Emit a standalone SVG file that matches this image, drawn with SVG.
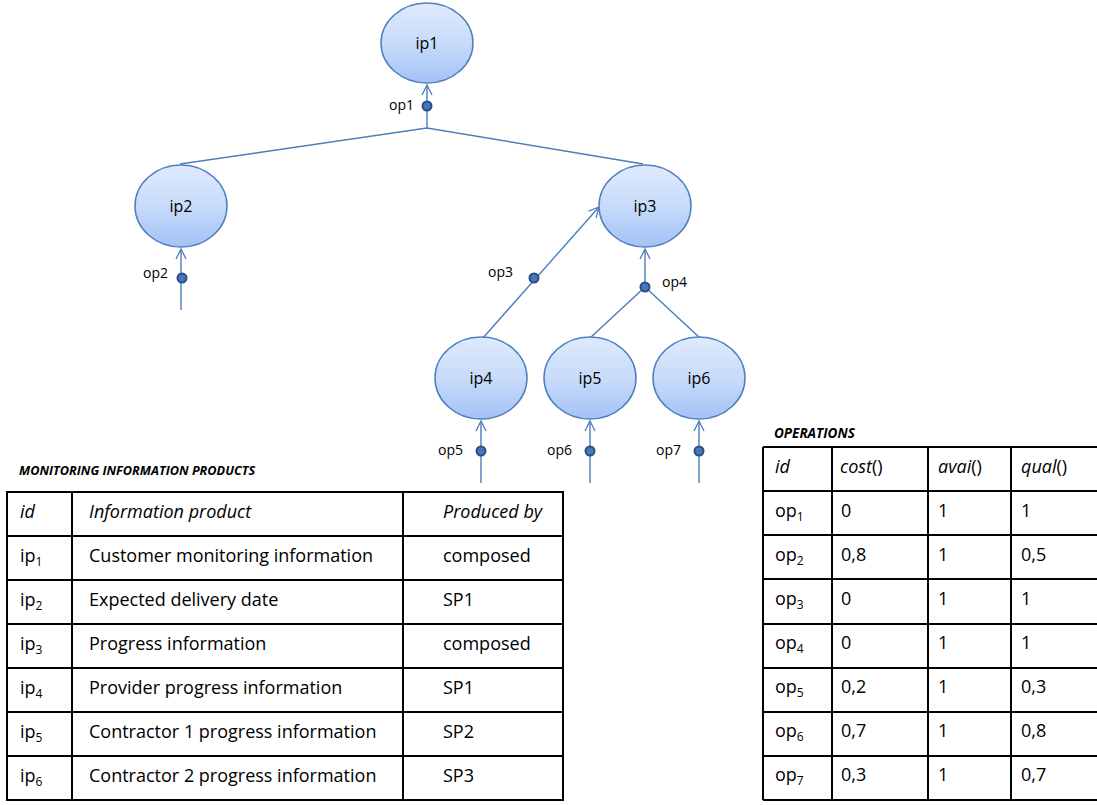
<svg xmlns="http://www.w3.org/2000/svg" width="1097" height="805" viewBox="0 0 1097 805">
<defs>
<linearGradient id="g" x1="0" y1="0" x2="0" y2="1">
<stop offset="0" stop-color="#dfeafc"/>
<stop offset="0.5" stop-color="#c8dbfa"/>
<stop offset="1" stop-color="#a3c2f5"/>
</linearGradient>
<marker id="arr" viewBox="0 0 12 12" refX="11" refY="6" markerWidth="12" markerHeight="12" markerUnits="userSpaceOnUse" orient="auto">
<path d="M1,1 L11,6 L1,11" fill="none" stroke="#4a7ebb" stroke-width="1.3"/>
</marker>
<style>
.n{fill:url(#g);stroke:#4f7fbf;stroke-width:1.5}
.nl{font-family:"Open Sans",sans-serif;font-size:16px;fill:#000;text-anchor:middle}
.ol{font-family:"Open Sans",sans-serif;font-size:14px;fill:#000}
.c{fill:none;stroke:#4a7ebb;stroke-width:1.4}
.d{fill:#4678b8;stroke:#2b4f80;stroke-width:2}
.t{font-family:"Open Sans",sans-serif;font-size:18px;fill:#000}
.ti{font-style:italic}
.cap{font-family:"Open Sans",sans-serif;font-weight:bold;font-style:italic;fill:#000}
.grid{stroke:#000;stroke-width:2;fill:none}
.sub{font-size:12px}
</style>
</defs>
<g id="connectors">
<polyline class="c" points="180,164 427,128 643,164"/>
<line class="c" x1="427" y1="128" x2="427" y2="85" marker-end="url(#arr)"/>
<line class="c" x1="181" y1="310" x2="181" y2="249" marker-end="url(#arr)"/>
<line class="c" x1="482" y1="339" x2="599" y2="207" marker-end="url(#arr)"/>
<line class="c" x1="645" y1="287" x2="645" y2="249" marker-end="url(#arr)"/>
<polyline class="c" points="590,338 645,287 700,338"/>
<line class="c" x1="481" y1="483" x2="481" y2="421" marker-end="url(#arr)"/>
<line class="c" x1="590" y1="483" x2="590" y2="421" marker-end="url(#arr)"/>
<line class="c" x1="699" y1="483" x2="699" y2="421" marker-end="url(#arr)"/>
<circle class="d" cx="427" cy="106" r="4.5"/>
<circle class="d" cx="182" cy="278" r="4.5"/>
<circle class="d" cx="534" cy="278" r="4.5"/>
<circle class="d" cx="645" cy="287" r="4.5"/>
<circle class="d" cx="481" cy="451" r="4.5"/>
<circle class="d" cx="590" cy="451" r="4.5"/>
<circle class="d" cx="699" cy="451" r="4.5"/>
<text class="ol" x="389" y="110">op1</text>
<text class="ol" x="143" y="278">op2</text>
<text class="ol" x="488" y="277">op3</text>
<text class="ol" x="662" y="287">op4</text>
<text class="ol" x="438" y="455">op5</text>
<text class="ol" x="547" y="455">op6</text>
<text class="ol" x="656" y="455">op7</text>
</g>
<g id="ip1"><ellipse class="n" cx="427" cy="43" rx="46" ry="40"/><text class="nl" x="427" y="49">ip1</text></g>
<g id="ip2"><ellipse class="n" cx="181" cy="206" rx="46" ry="41"/><text class="nl" x="181" y="212">ip2</text></g>
<g id="ip3"><ellipse class="n" cx="645" cy="206" rx="46" ry="41"/><text class="nl" x="645" y="212">ip3</text></g>
<g id="ip4"><ellipse class="n" cx="481" cy="378" rx="46" ry="41"/><text class="nl" x="481" y="384">ip4</text></g>
<g id="ip5"><ellipse class="n" cx="590" cy="378" rx="46" ry="41"/><text class="nl" x="590" y="384">ip5</text></g>
<g id="ip6"><ellipse class="n" cx="699" cy="378" rx="46" ry="41"/><text class="nl" x="699" y="384">ip6</text></g>
<g id="products-table">
<text class="cap" x="19" y="475" font-size="12.7">MONITORING INFORMATION PRODUCTS</text>
<rect class="grid" x="7" y="492" width="556" height="308"/>
<path class="grid" d="M7,536H563M7,580H563M7,624H563M7,668H563M7,712H563M7,756H563M72,492V800M403,492V800"/>
<text class="t ti" x="20" y="518">id</text>
<text class="t ti" x="89" y="518">Information product</text>
<text class="t ti" x="443" y="518">Produced by</text>
<text class="t" x="20" y="562">ip<tspan class="sub" dy="4">1</tspan></text>
<text class="t" x="89" y="562">Customer monitoring information</text>
<text class="t" x="443" y="562">composed</text>
<text class="t" x="20" y="606">ip<tspan class="sub" dy="4">2</tspan></text>
<text class="t" x="89" y="606">Expected delivery date</text>
<text class="t" x="443" y="606">SP1</text>
<text class="t" x="20" y="650">ip<tspan class="sub" dy="4">3</tspan></text>
<text class="t" x="89" y="650">Progress information</text>
<text class="t" x="443" y="650">composed</text>
<text class="t" x="20" y="694">ip<tspan class="sub" dy="4">4</tspan></text>
<text class="t" x="89" y="694">Provider progress information</text>
<text class="t" x="443" y="694">SP1</text>
<text class="t" x="20" y="738">ip<tspan class="sub" dy="4">5</tspan></text>
<text class="t" x="89" y="738">Contractor 1 progress information</text>
<text class="t" x="443" y="738">SP2</text>
<text class="t" x="20" y="782">ip<tspan class="sub" dy="4">6</tspan></text>
<text class="t" x="89" y="782">Contractor 2 progress information</text>
<text class="t" x="443" y="782">SP3</text>
</g>
<g id="operations-table">
<text class="cap" x="774" y="438" font-size="13.5">OPERATIONS</text>
<path class="grid" d="M763,447H1099M763,491H1099M763,535H1099M763,579H1099M763,624H1099M763,668H1099M763,712H1099M763,756H1099M763,800H1099M763,447V800M832,447V800M928,447V800M1011,447V800"/>
<text class="t ti" x="775" y="473">id</text>
<text class="t" x="840" y="473"><tspan class="ti">cost</tspan>()</text>
<text class="t" x="938" y="473"><tspan class="ti">avai</tspan>()</text>
<text class="t" x="1021" y="473"><tspan class="ti">qual</tspan>()</text>
<text class="t" x="775" y="517">op<tspan class="sub" dy="4">1</tspan></text><text class="t" x="841" y="517">0</text><text class="t" x="938" y="517">1</text><text class="t" x="1021" y="517">1</text>
<text class="t" x="775" y="561">op<tspan class="sub" dy="4">2</tspan></text><text class="t" x="841" y="561">0,8</text><text class="t" x="938" y="561">1</text><text class="t" x="1021" y="561">0,5</text>
<text class="t" x="775" y="605">op<tspan class="sub" dy="4">3</tspan></text><text class="t" x="841" y="605">0</text><text class="t" x="938" y="605">1</text><text class="t" x="1021" y="605">1</text>
<text class="t" x="775" y="649">op<tspan class="sub" dy="4">4</tspan></text><text class="t" x="841" y="649">0</text><text class="t" x="938" y="649">1</text><text class="t" x="1021" y="649">1</text>
<text class="t" x="775" y="693">op<tspan class="sub" dy="4">5</tspan></text><text class="t" x="841" y="693">0,2</text><text class="t" x="938" y="693">1</text><text class="t" x="1021" y="693">0,3</text>
<text class="t" x="775" y="737">op<tspan class="sub" dy="4">6</tspan></text><text class="t" x="841" y="737">0,7</text><text class="t" x="938" y="737">1</text><text class="t" x="1021" y="737">0,8</text>
<text class="t" x="775" y="781">op<tspan class="sub" dy="4">7</tspan></text><text class="t" x="841" y="781">0,3</text><text class="t" x="938" y="781">1</text><text class="t" x="1021" y="781">0,7</text>
</g>
</svg>
